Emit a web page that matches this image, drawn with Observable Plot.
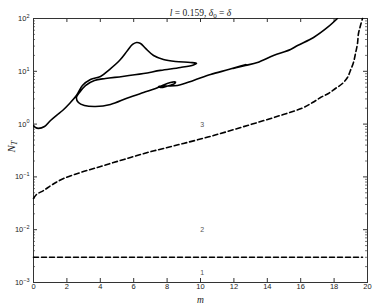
<!DOCTYPE html>
<html><head><meta charset="utf-8">
<script src="https://cdn.jsdelivr.net/npm/d3@7"></script>
<script src="https://cdn.jsdelivr.net/npm/@observablehq/plot@0.6"></script>
<style>body{margin:0;background:#fff}</style>
</head><body><div id="chart"></div>
<script>
const xTicks = [0,2,4,6,8,10,12,14,16,18,20];
const yMajor = [1e-3,1e-2,1e-1,1,10,100];
const yMinor = [];
for (let e=-3;e<2;e++) for (let k=2;k<10;k++) yMinor.push(k*Math.pow(10,e));

const solidM = [0,0.12,0.3,0.66,1.02,1.44,1.74,2.16,2.57,2.93,3.41,4.01,4.55,5.15,5.63,5.93,6.17,6.41,6.71,7.19,7.78,8.5,9.4,9.76,9.58,8.8,7.6,6.59,5.33,4.31,3.65,3.11,2.75,2.57,2.69,3.05,3.71,4.61,5.63,6.59,7.31,7.78,8.2,8.5,8.44,8.02,7.6,7.49,7.9,8.62,9.58,10.6,11.68,12.4,12.75,12.16,11.92,12.69,13.41,14.37,15.39,15.81,16.77,17.6,18.2];
const solidN = [0.94,0.86,0.83,0.90,1.17,1.52,1.81,2.46,3.48,5.38,7.0,7.98,10.8,16.0,24.8,32.2,35.1,33.6,27.1,19.9,16.7,15.3,14.7,14.1,13.2,11.8,10.4,9.08,7.98,7.31,6.70,5.38,3.96,3.19,2.56,2.25,2.15,2.35,3.12,3.96,4.72,5.51,6.14,6.27,5.87,5.27,4.93,5.15,5.27,5.38,6.70,8.69,10.8,12.6,13.5,11.8,11.3,12.9,14.7,19.9,25.9,30.8,43.7,67.6,100];

const dashM = [0,0.18,0.6,1.14,1.8,2.81,3.83,4.79,5.81,6.83,7.78,8.98,10.78,12.81,14.79,16.17,16.71,17.19,17.66,18.08,18.5,18.8,18.98,19.16,19.28,19.4,19.46,19.58,19.7];
const dashN = [0.039,0.0465,0.0552,0.0718,0.0933,0.121,0.151,0.187,0.233,0.290,0.345,0.430,0.608,0.94,1.46,2.06,2.56,3.19,3.80,4.72,5.87,7.63,10.4,14.7,21.7,33.6,52.0,73.6,100];

const flatM = [0,19.7];
const flatN = [0.003,0.003];

const regionLabels = ["1","2","3"];
const regionM = [10.1,10.1,10.1];
const regionN = [0.0015,0.01,0.98];

const solid = solidM.map((m,i)=>({m, n: solidN[i]}));
const dashed = dashM.map((m,i)=>({m, n: dashN[i]}));
const flat = flatM.map((m,i)=>({m, n: flatN[i]}));
const regions = regionLabels.map((t,i)=>({t, m: regionM[i], n: regionN[i]}));

const W=374,H=303,mL=33,mR=7,mT=18,mB=21;
const fw=W-mL-mR, fh=H-mT-mB;

const chart = Plot.plot({
  width:W, height:H, marginLeft:mL, marginRight:mR, marginTop:mT, marginBottom:mB,
  style:{fontFamily:"'Liberation Sans', Arial, sans-serif", fontSize:"7.5px", color:"#222", background:"#fff"},
  x:{domain:[0,20], ticks:xTicks, tickSize:0, tickPadding:1, label:null},
  y:{type:"log", domain:[1e-3,1e2], ticks:yMajor, tickSize:0, tickPadding:4, label:null,
     tickFormat:d=>"10^"+Math.round(Math.log10(d))},
  marks:[
    Plot.tickX(xTicks,{x:d=>d, insetTop:fh-4, stroke:"#333"}),
    Plot.tickX(xTicks,{x:d=>d, insetBottom:fh-4, stroke:"#333"}),
    Plot.tickY(yMajor,{y:d=>d, insetRight:fw-4, stroke:"#333"}),
    Plot.tickY(yMajor,{y:d=>d, insetLeft:fw-4, stroke:"#333"}),
    Plot.tickY(yMinor,{y:d=>d, insetRight:fw-2, stroke:"#555", strokeWidth:0.8}),
    Plot.tickY(yMinor,{y:d=>d, insetLeft:fw-2, stroke:"#555", strokeWidth:0.8}),
    Plot.frame({stroke:"#333", strokeWidth:1}),
    Plot.line(flat,{x:"m", y:"n", stroke:"#000", strokeWidth:1.6, strokeDasharray:"5,3"}),
    Plot.line(dashed,{x:"m", y:"n", stroke:"#000", strokeWidth:1.6, strokeDasharray:"5,3", curve:"catmull-rom"}),
    Plot.line(solid,{x:"m", y:"n", stroke:"#000", strokeWidth:1.6, curve:"catmull-rom", clip:true}),
    Plot.text(regions,{x:"m", y:"n", text:"t", fontSize:7, fill:"#555"}),
    Plot.text(["t"],{frameAnchor:"top", dy:-9, text:d=>"TITLE", fontSize:9.5, fontFamily:"'Liberation Serif', serif", ariaDescription:"title"}),
    Plot.text(["m"],{frameAnchor:"bottom", lineAnchor:"bottom", dy:20, text:d=>"m", fontSize:9.5, fontStyle:"italic", fontFamily:"'Liberation Serif', serif"}),
    Plot.text(["N"],{frameAnchor:"left", dx:-22, dy:2, rotate:-90, text:d=>"NT", fontSize:11, fontFamily:"'Liberation Serif', serif", ariaDescription:"ylabel"})
  ]
});

const svg = d3.select(chart);
svg.selectAll('g[aria-label="y-axis tick label"] text').each(function(){
  const s = d3.select(this).text();
  const e = s.split("^")[1].replace("-","\u2212");
  const t = d3.select(this).text("10");
  t.append("tspan").attr("dy","-0.55em").attr("font-size","5.5px").text(e);
});
svg.selectAll('g[aria-description="title"] text').each(function(){
  const t = d3.select(this).text("");
  t.append("tspan").attr("font-style","italic").text("l");
  t.append("tspan").text(" = 0.159, ");
  t.append("tspan").attr("font-style","italic").text("\u03b4");
  t.append("tspan").attr("dy","0.3em").attr("font-size","7px").text("0");
  t.append("tspan").attr("dy","-0.3em").text(" = ");
  t.append("tspan").attr("font-style","italic").text("\u03b4");
});
svg.selectAll('g[aria-description="ylabel"] text').each(function(){
  const t = d3.select(this).text("");
  t.append("tspan").attr("font-style","italic").text("N");
  t.append("tspan").attr("font-style","italic").attr("dy","0.3em").attr("font-size","8px").text("T");
});
document.getElementById("chart").appendChild(chart);
</script></body></html>
